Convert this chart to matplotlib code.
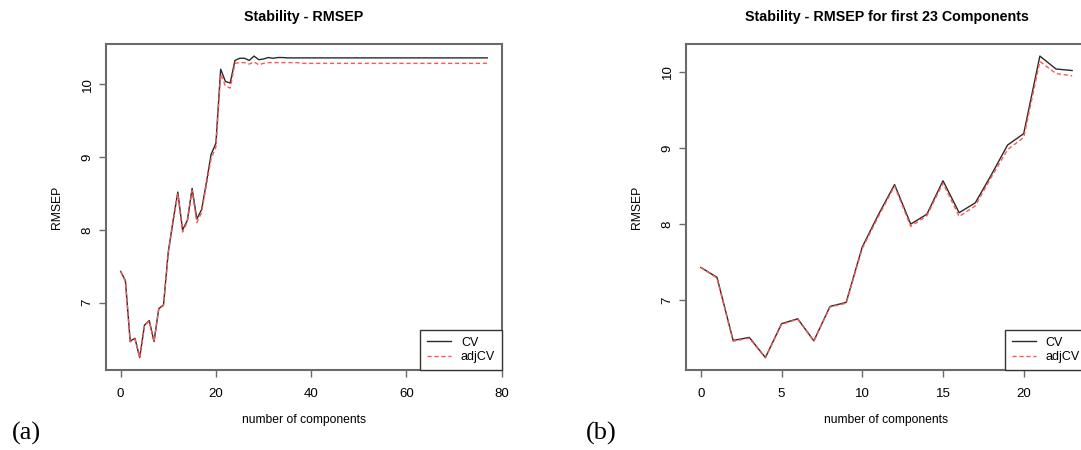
import numpy as np
import matplotlib
matplotlib.use('Agg')
import matplotlib.pyplot as plt

plt.rcParams['font.family'] = ['Liberation Sans', 'DejaVu Sans']

# RMSEP per number of components (0..77)
components = list(range(78))
cv = [7.43, 7.30, 6.47, 6.51, 6.245, 6.69, 6.755, 6.465, 6.917, 6.97,
      7.70, 8.125, 8.52, 8.00, 8.13, 8.57, 8.15, 8.28, 8.65, 9.04,
      9.19, 10.21, 10.04, 10.02, 10.33, 10.36, 10.36, 10.33, 10.39, 10.34,
      10.35, 10.37, 10.36, 10.37, 10.37, 10.365, 10.365, 10.365, 10.365, 10.365,
      10.365, 10.365, 10.365, 10.365, 10.365, 10.365, 10.365, 10.365, 10.365, 10.365,
      10.365, 10.365, 10.365, 10.365, 10.365, 10.365, 10.365, 10.365, 10.365, 10.365,
      10.365, 10.365, 10.365, 10.365, 10.365, 10.365, 10.365, 10.365, 10.365, 10.365,
      10.365, 10.365, 10.365, 10.365, 10.365, 10.365, 10.365, 10.365]
adjcv = [7.43, 7.29, 6.46, 6.50, 6.24, 6.68, 6.75, 6.46, 6.91, 6.96,
         7.68, 8.10, 8.50, 7.97, 8.11, 8.54, 8.10, 8.24, 8.62, 8.98,
         9.14, 10.14, 9.98, 9.95, 10.29, 10.30, 10.30, 10.28, 10.31, 10.27,
         10.29, 10.30, 10.30, 10.30, 10.30, 10.30, 10.30, 10.30, 10.29, 10.29,
         10.29, 10.29, 10.29, 10.29, 10.29, 10.29, 10.29, 10.29, 10.29, 10.29,
         10.29, 10.29, 10.29, 10.29, 10.29, 10.29, 10.29, 10.29, 10.29, 10.29,
         10.29, 10.29, 10.29, 10.29, 10.29, 10.29, 10.29, 10.29, 10.29, 10.29,
         10.29, 10.29, 10.29, 10.29, 10.29, 10.29, 10.29, 10.29]
n_first = 24

titles = ['Stability - RMSEP', 'Stability - RMSEP for first 23 Components']
xticks_a = [0, 20, 40, 60, 80]
xticks_b = [0, 5, 10, 15, 20]
yticks = [7, 8, 9, 10]
panel_labels = ['(a)', '(b)']

W, H = 1081, 450
box_col = '#6a6a6a'


def rlim(v):
    lo, hi = min(v), max(v)
    d = (hi - lo) * 0.04
    return lo - d, hi + d


def panel(rect, x, y1, y2, title, xt):
    ax = fig.add_axes(rect)
    ax.plot(x, y1, color='#2a2a2a', lw=1.0, label='CV')
    ax.plot(x, y2, color='#ff5555', lw=1.0, ls=(0, (3, 2)), label='adjCV')
    ax.set_xlim(*rlim(x))
    ax.set_ylim(*rlim(list(y1) + list(y2)))
    ax.set_xticks(xt)
    ax.set_yticks(yticks)
    ax.set_yticklabels([str(t) for t in yticks], rotation=90, va='center')
    ax.tick_params(length=5, width=1.0, color=box_col, labelsize=9.5, pad=4)
    ax.tick_params(axis='x', pad=8)
    for s in ax.spines.values():
        s.set_color(box_col)
        s.set_linewidth(1.5)
    ax.text(0.5, 1.0 + 27 / 326, title, transform=ax.transAxes, ha='center',
            va='center', fontsize=10.3, fontweight='bold')
    ax.text(-49 / rect[2] / W, 0.5, 'RMSEP', transform=ax.transAxes, rotation=90,
            ha='center', va='center', fontsize=8.7)
    ax.text(0.5, -50 / 326, 'number of components', transform=ax.transAxes,
            ha='center', va='center', fontsize=8.7)
    leg = ax.legend(loc='lower right', borderaxespad=0, fancybox=False,
                    framealpha=1, edgecolor='#333333', fontsize=9,
                    handlelength=1.9, handletextpad=0.8, borderpad=0.55,
                    labelspacing=0.2)
    leg.get_frame().set_linewidth(1.0)
    return ax


fig = plt.figure(figsize=(W / 100, H / 100), dpi=100)
bot = (H - 370) / H
hgt = 326 / H
panel([106 / W, bot, 396 / W, hgt], components, cv, adjcv, titles[0], xticks_a)
panel([686 / W, bot, 401 / W, hgt], components[:n_first], cv[:n_first],
      adjcv[:n_first], titles[1], xticks_b)

fig.text(12 / W, 1 - 433 / H, panel_labels[0], family='Liberation Serif',
         fontsize=19, ha='left', va='center')
fig.text(586 / W, 1 - 433 / H, panel_labels[1], family='Liberation Serif',
         fontsize=19, ha='left', va='center')

fig.savefig('out.png', dpi=100)
